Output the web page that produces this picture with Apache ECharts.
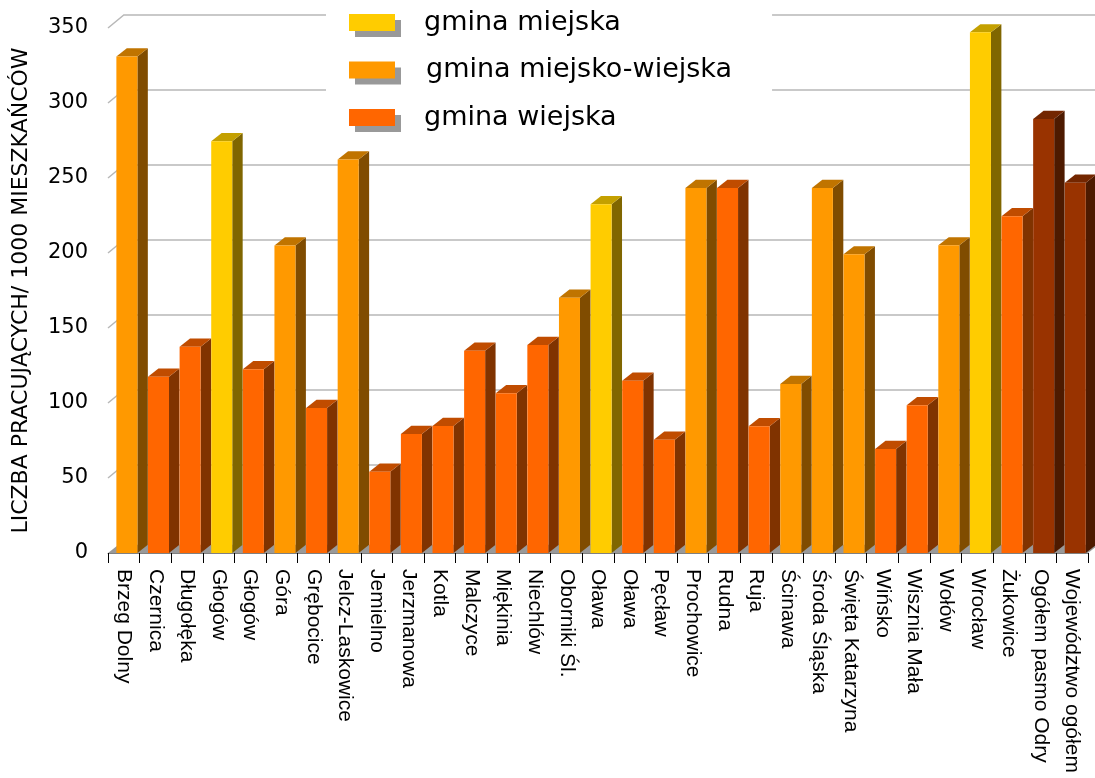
<!DOCTYPE html>
<html>
<head>
<meta charset="utf-8">
<script src="https://cdn.jsdelivr.net/npm/echarts@6/dist/echarts.min.js"></script>
<style>
html,body{margin:0;padding:0;background:#fff;}
#c{width:1095px;height:778px;}
</style>
</head>
<body>
<div id="c"></div>
<script>
const categories = ['Brzeg Dolny','Czernica','Długołęka','Głogów','Głogów','Góra','Grębocice','Jelcz-Laskowice','Jemielno','Jerzmanowa','Kotla','Malczyce','Miękinia','Niechlów','Oborniki Śl.','Oława','Oława','Pęcław','Prochowice','Rudna','Ruja','Ścinawa','Środa Śląska','Święta Katarzyna','Wińsko','Wisznia Mała','Wołów','Wrocław','Żukowice','Ogółem pasmo Odry','Województwo ogółem'];
const values = [331,117.5,137.5,274.5,122.5,205,96.7,262.4,54.2,79.3,84.7,134.9,106.5,138.7,170.2,232.5,114.9,75.5,243.3,243.3,84.5,112.7,243.3,199.1,69.3,98.5,205.1,347.1,224.5,289.3,246.9];
const types = ['O','R','R','Y','R','O','R','O','R','R','R','R','R','R','O','Y','R','R','O','R','R','O','O','O','R','R','O','Y','R','D','D'];
const yTicks = [50,100,150,200,250,300,350];
const typeKeys = ['Y','O','R','D'];
const typeNames = {Y:'gmina miejska', O:'gmina miejsko-wiejska', R:'gmina wiejska', D:'ogółem'};
const legendNames = ['gmina miejska','gmina miejsko-wiejska','gmina wiejska'];
const yAxisTitle = 'LICZBA PRACUJĄCYCH/ 1000 MIESZKAŃCÓW';

const palette = {
  Y:{front:'#FFCC00', top:'#C4A000', side:'#806600'},
  O:{front:'#FF9900', top:'#C07400', side:'#804C00'},
  R:{front:'#FF6600', top:'#C04C00', side:'#803300'},
  D:{front:'#993300', top:'#732600', side:'#4D1A00'}
};

function barRenderer(key){
  const c = palette[key];
  return function(params, api){
    const i = api.value(0), v = api.value(1);
    const b = api.coord([i, 0]);
    const t = api.coord([i, v]);
    const bw = api.size([1, 0])[0];
    const fl = b[0] - bw*0.235, fr = b[0] + bw*0.43;
    const dx = bw*0.33, dy = bw*0.26;
    return {type:'group', children:[
      {type:'polygon', shape:{points:[[fr,t[1]],[fr+dx,t[1]-dy],[fr+dx,b[1]-dy],[fr,b[1]]]}, style:{fill:c.side}},
      {type:'polygon', shape:{points:[[fl,t[1]],[fr,t[1]],[fr+dx,t[1]-dy],[fl+dx,t[1]-dy]]}, style:{fill:c.top}},
      {type:'rect', shape:{x:fl, y:t[1], width:fr-fl, height:b[1]-t[1]}, style:{fill:c.front}}
    ]};
  };
}

const gridSeries = {
  type:'custom', silent:true, clip:false, z:1,
  data: yTicks.map(v => [0, v]),
  renderItem: function(params, api){
    const cs = params.coordSys;
    const y = api.coord([0, api.value(1)])[1];
    const bw = api.size([1,0])[0];
    const ddx = bw*0.5, ddy = bw*0.41;
    return {type:'polyline', shape:{points:[[cs.x, y],[cs.x+ddx, y-ddy],[cs.x+cs.width+ddx, y-ddy]]}, style:{stroke:'#b8b8b8', lineWidth:1.5, fill:null}};
  }
};

const floorSeries = {
  type:'custom', silent:true, clip:false, z:1,
  data: [[0, 0]],
  renderItem: function(params, api){
    const cs = params.coordSys;
    const y = api.coord([0, 0])[1];
    const bw = api.size([1,0])[0];
    const dx = bw*0.33, dy = bw*0.26;
    return {type:'polygon', shape:{points:[[cs.x,y],[cs.x+cs.width,y],[cs.x+cs.width+dx,y-dy],[cs.x+dx,y-dy]]}, style:{fill:'#999999'}};
  }
};

const barSeries = typeKeys.map(k => ({
  name: typeNames[k],
  type:'custom', clip:false, z:2,
  itemStyle:{color: palette[k].front},
  data: values.map((v, i) => [i, v]).filter((d, i) => types[i] === k),
  renderItem: barRenderer(k)
}));

const legendData = [
  {name:legendNames[0], textStyle:{lineHeight:20, padding:[10,0,0,24]}},
  {name:legendNames[1], textStyle:{padding:[0,0,0,26]}},
  {name:legendNames[2]}
];

const chart = echarts.init(document.getElementById('c'));
chart.setOption({
  animation:false,
  backgroundColor:'#fff',
  grid:{left:108, right:7, top:28, bottom:225, containLabel:false},
  legend:{
    data: legendData, orient:'vertical', left:326, top:0,
    padding:[7.5, 40, 8, 23], itemWidth:46, itemHeight:17, itemGap:17.5,
    backgroundColor:'#fff', icon:'rect', selectedMode:false,
    textStyle:{fontFamily:'DejaVu Sans', fontSize:27, color:'#000', lineHeight:30, padding:[0,0,0,24]},
    itemStyle:{shadowColor:'#999999', shadowOffsetX:6, shadowOffsetY:6, shadowBlur:0}
  },
  xAxis:{
    type:'category', data:categories, boundaryGap:true,
    axisLine:{show:true, lineStyle:{color:'#808080', width:1}},
    axisTick:{show:true, interval:0, length:10, lineStyle:{color:'#000'}},
    axisLabel:{interval:0, rotate:-90, margin:16, fontFamily:'Liberation Sans', fontSize:21, color:'#000'},
    splitLine:{show:false}
  },
  yAxis:{
    type:'value', min:0, max:350, interval:50,
    axisLine:{show:false}, axisTick:{show:false}, splitLine:{show:false},
    axisLabel:{fontFamily:'DejaVu Sans', fontSize:21, color:'#000', margin:20},
    name: yAxisTitle, nameLocation:'middle', nameRotate:90, nameGap:76,
    nameTextStyle:{fontFamily:'DejaVu Sans', fontSize:22, color:'#000'}
  },
  series:[gridSeries, floorSeries].concat(barSeries)
});
</script>
</body>
</html>
